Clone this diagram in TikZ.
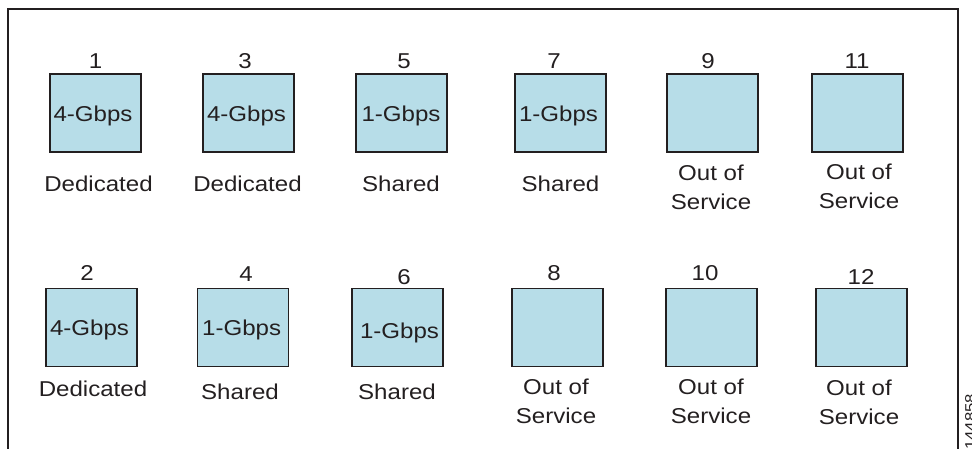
\documentclass[tikz,border=0pt]{standalone}
\usepackage{fontspec}
\setmainfont[FakeStretch=1.12]{Liberation Sans}
\definecolor{boxfill}{HTML}{B7DDE8}
\definecolor{ink}{HTML}{231F20}
\tikzset{
  port/.style={draw=ink, line width=1.6pt, fill=boxfill, minimum width=91pt, minimum height=78pt, inner sep=0pt},
  lbl/.style={text=ink, inner sep=0pt, font=\fontsize{21.5}{29}\selectfont, align=center},
}
\begin{document}
\begin{tikzpicture}[x=1pt,y=-1pt]
\useasboundingbox (0,0) rectangle (972,448);
\draw[ink, line width=1.6pt] (8,449) -- (8,9) -- (958,9) -- (958,449);
% row 1
\node[port] (p1) at (95.5,113) {};
\node[port] (p3) at (248.5,113) {};
\node[port] (p5) at (401.5,113) {};
\node[port] (p7) at (560.5,113) {};
\node[port] (p9) at (712.5,113) {};
\node[port] (p11) at (857.5,113) {};
% row 2
\node[port] (p2) at (91.5,327.5) {};
\node[port] (p4) at (243,327.5) {};
\node[port] (p6) at (397.5,327.5) {};
\node[port] (p8) at (557.5,327.5) {};
\node[port] (p10) at (711.5,327.5) {};
\node[port] (p12) at (861.5,327.5) {};
% speeds
\node[lbl] (r1) at (93,115.5) {4-Gbps};
\node[lbl] (r3) at (246.5,116) {4-Gbps};
\node[lbl] (r5) at (401,116) {1-Gbps};
\node[lbl] (r7) at (558.5,116) {1-Gbps};
\node[lbl] (r2) at (89.5,330) {4-Gbps};
\node[lbl] (r4) at (241.7,330) {1-Gbps};
\node[lbl] (r6) at (399.5,333) {1-Gbps};
% numbers
\node[lbl] (n1) at (95.5,61) {1};
\node[lbl] (n3) at (245,61) {3};
\node[lbl] (n5) at (404,61) {5};
\node[lbl] (n7) at (554,61) {7};
\node[lbl] (n9) at (708,61) {9};
\node[lbl] (n11) at (857,61) {11};
\node[lbl] (n2) at (87,273) {2};
\node[lbl] (n4) at (246,274) {4};
\node[lbl] (n6) at (404,277) {6};
\node[lbl] (n8) at (554,273) {8};
\node[lbl] (n10) at (705,273) {10};
\node[lbl] (n12) at (861,277) {12};
% status labels
\node[lbl] (s1) at (98.5,184) {Dedicated};
\node[lbl] (s3) at (247.5,184) {Dedicated};
\node[lbl] (s5) at (401,184) {Shared};
\node[lbl] (s7) at (560.5,184) {Shared};
\node[lbl] (s9) at (711,187) {Out of\\Service};
\node[lbl] (s11) at (859,186) {Out of\\Service};
\node[lbl] (s2) at (93,389) {Dedicated};
\node[lbl] (s4) at (240,392) {Shared};
\node[lbl] (s6) at (397,392) {Shared};
\node[lbl] (s8) at (556,401) {Out of\\Service};
\node[lbl] (s10) at (711,401) {Out of\\Service};
\node[lbl] (s12) at (859,402) {Out of\\Service};
% figure id
\node[text=ink, inner sep=0pt, rotate=90, anchor=north west, font=\fontsize{15}{15}\selectfont] (fid) at (965,450) {144858};
\end{tikzpicture}
\end{document}
